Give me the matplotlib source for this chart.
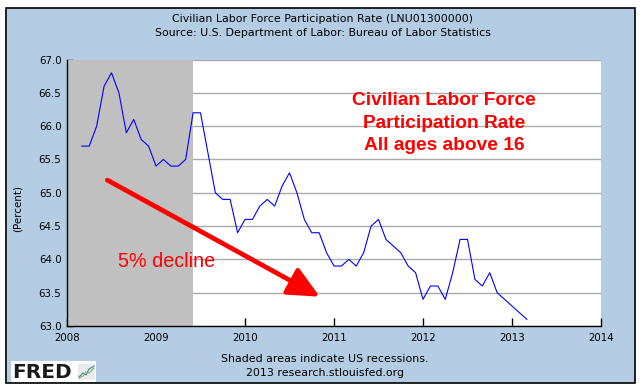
import matplotlib
matplotlib.use("Agg")
import matplotlib.pyplot as plt
from matplotlib.patches import Rectangle
from matplotlib.lines import Line2D

# ---- data (monthly, Mar 2008 - Mar 2013) ----
start_year = 2008
start_month = 3
rate_2008 = [65.7, 65.7, 66.0, 66.6, 66.8, 66.5, 65.9, 66.1, 65.8, 65.7]
rate_2009 = [65.4, 65.5, 65.4, 65.4, 65.5, 66.2, 66.2, 65.6, 65.0, 64.9, 64.9, 64.4]
rate_2010 = [64.6, 64.6, 64.8, 64.9, 64.8, 65.1, 65.3, 65.0, 64.6, 64.4, 64.4, 64.1]
rate_2011 = [63.9, 63.9, 64.0, 63.9, 64.1, 64.5, 64.6, 64.3, 64.2, 64.1, 63.9, 63.8]
rate_2012 = [63.4, 63.6, 63.6, 63.4, 63.8, 64.3, 64.3, 63.7, 63.6, 63.8, 63.5, 63.4]
rate_2013 = [63.3, 63.2, 63.1]
values = rate_2008 + rate_2009 + rate_2010 + rate_2011 + rate_2012 + rate_2013
x_dates = [start_year + (start_month - 1 + i) / 12 for i in range(len(values))]

recession_start = 2008.0
recession_end = 2009 + 5 / 12  # Jun 2009

year_ticks = [2008, 2009, 2010, 2011, 2012, 2013, 2014]
year_labels = ["2008", "2009", "2010", "2011", "2012", "2013", "2014"]
y_ticks = [63.0, 63.5, 64.0, 64.5, 65.0, 65.5, 66.0, 66.5, 67.0]
y_labels = ["63.0", "63.5", "64.0", "64.5", "65.0", "65.5", "66.0", "66.5", "67.0"]

title_lines = ["Civilian Labor Force Participation Rate (LNU01300000)",
               "Source: U.S. Department of Labor: Bureau of Labor Statistics"]
note_lines = ["Shaded areas indicate US recessions.", "2013 research.stlouisfed.org"]
callout_lines = ["Civilian Labor Force", "Participation Rate", "All ages above 16"]
arrow_start = (2008.453, 65.19)
arrow_end = (2010.84, 63.44)

W, H = 644, 391
fig = plt.figure(figsize=(W / 100, H / 100), dpi=100)
fig.patch.set_facecolor("white")

def px(x, y):
    return x / W, 1 - y / H

panel_blue = "#b4cde4"
fig.patches.append(Rectangle(px(6, 383), 629 / W, 375 / H, transform=fig.transFigure,
                             facecolor=panel_blue, edgecolor="black", linewidth=1.2, zorder=-5))

ax = fig.add_axes([67 / W, 1 - 326 / H, 534 / W, 266.5 / H])
ax.set_zorder(1)
ax.set_facecolor("white")
ax.set_axisbelow(True)
ax.grid(axis="y", color="#aaaaaa", linewidth=1.0)
ax.axvspan(recession_start, recession_end, color="#c0c0c0", zorder=1, linewidth=0)
ax.plot(x_dates, values, color="#0000ff", linewidth=0.8, zorder=3)

ax.set_xlim(2008, 2014)
ax.set_ylim(63.0, 67.0)
ax.set_xticks(year_ticks)
ax.set_xticklabels(year_labels)
ax.set_yticks(y_ticks)
ax.set_yticklabels(y_labels)
ax.tick_params(axis="x", direction="in", length=6, width=1, pad=5, labelsize=7.4, colors="black")
ax.tick_params(axis="y", direction="in", length=4, width=1, pad=4, labelsize=7.4, colors="black")
for s in ["top", "right"]:
    ax.spines[s].set_visible(False)
for s in ["left", "bottom"]:
    ax.spines[s].set_color("black")
    ax.spines[s].set_linewidth(1.0)
    ax.spines[s].set_zorder(4)

# callout text
callout_y = [100.7, 123.3, 145.0]
for line, yy in zip(callout_lines, callout_y):
    fig.text(*px(444, yy), line, color="red", fontsize=13.8, fontweight="bold",
             family="Liberation Sans", ha="center", va="center", zorder=5)
fig.text(*px(167, 261.7), "5% decline", color="red", fontsize=14.2,
         family="Liberation Sans", ha="center", va="center", zorder=5)

ax.annotate("", xy=arrow_end, xytext=arrow_start,
            arrowprops=dict(arrowstyle="-|>,head_length=0.95,head_width=0.45", color="red",
                            lw=3.4, mutation_scale=20, shrinkA=0, shrinkB=0), zorder=5)

# titles
fig.text(*px(323, 19.5), title_lines[0], fontsize=7.9, ha="center", va="center", family="DejaVu Sans")
fig.text(*px(323, 33.5), title_lines[1], fontsize=7.9, ha="center", va="center", family="DejaVu Sans")
fig.text(*px(325, 359.3), note_lines[0], fontsize=7.9, ha="center", va="center", family="DejaVu Sans")
fig.text(*px(325, 372.7), note_lines[1], fontsize=7.9, ha="center", va="center", family="DejaVu Sans")
fig.text(*px(18, 209), "(Percent)", fontsize=7.4, rotation=90, ha="center", va="center", family="DejaVu Sans")

# FRED logo
fig.patches.append(Rectangle(px(11, 381.7), 85 / W, 20.7 / H, transform=fig.transFigure,
                             facecolor="white", edgecolor="none", zorder=2))
fig.text(*px(12, 372), "FRED", fontsize=14.5, fontweight="heavy", family="DejaVu Sans",
         ha="left", va="center", color="#1a1a1a", zorder=3)
fig.patches.append(Rectangle(px(78, 380), 17 / W, 16 / H, transform=fig.transFigure,
                             facecolor="#e8ecef", edgecolor="none", zorder=3))
icon_x = [79, 83, 86, 89, 94]
icon_y1 = [377, 373, 375, 369, 366]
icon_y2 = [378, 376, 372, 373, 368]
fig.lines.append(Line2D([v / W for v in icon_x], [1 - v / H for v in icon_y1],
                        transform=fig.transFigure, color="#4a7fc0", linewidth=0.8, zorder=4))
fig.lines.append(Line2D([v / W for v in icon_x], [1 - v / H for v in icon_y2],
                        transform=fig.transFigure, color="#7ab648", linewidth=0.8, zorder=4))

fig.savefig("out.png", dpi=100)
